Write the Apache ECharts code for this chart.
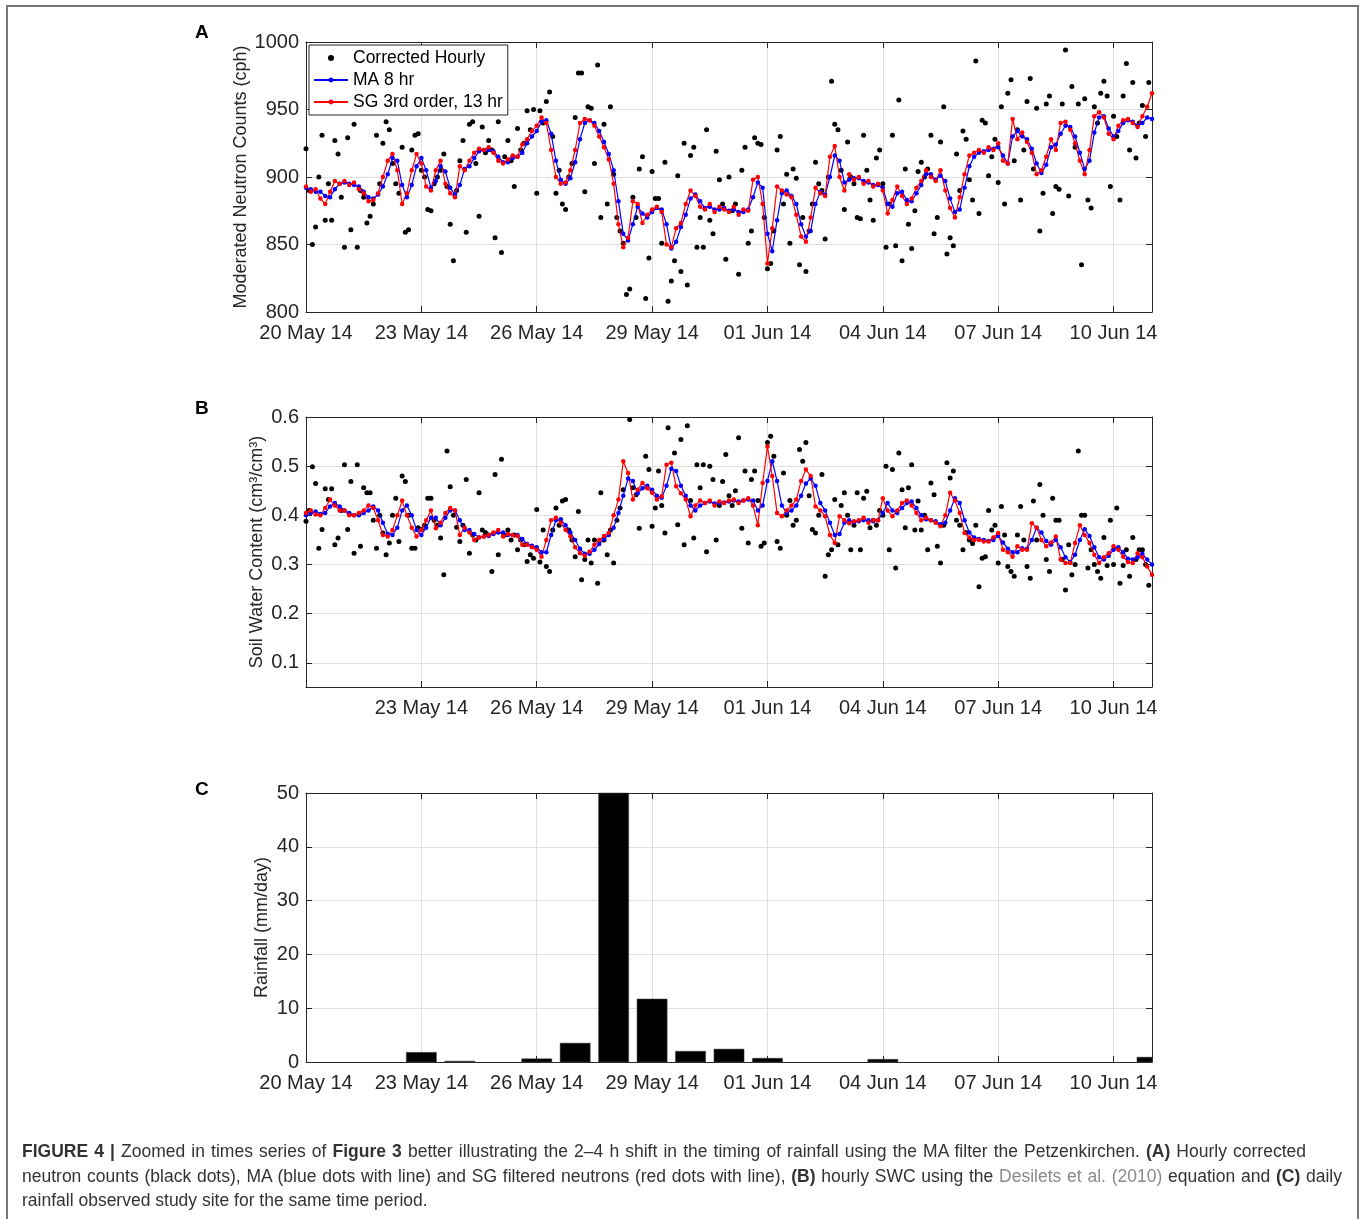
<!DOCTYPE html>
<html>
<head>
<meta charset="utf-8">
<title>Figure 4</title>
<script src="https://cdn.jsdelivr.net/npm/echarts@6/dist/echarts.min.js"></script>
<style>
html, body { margin: 0; padding: 0; background: #fff; }
#wrap { position: relative; width: 1360px; height: 1219px; overflow: hidden; }
#chart { position: absolute; left: 0; top: 0; width: 1360px; height: 1219px; }
#frame { position: absolute; left: 6px; top: 5px; width: 1349px; height: 1300px; border: 2px solid #777; }
#caption { position: absolute; left: 22px; top: 1139px; font-family: "Liberation Sans", Arial, sans-serif;
  font-size: 17.5px; line-height: 24.5px; color: #333; white-space: nowrap; }
#caption div { text-align: left; }
#caption .j { text-align: justify; text-align-last: justify; }
#caption .g { color: #8a8a8a; }
</style>
</head>
<body>
<div id="wrap">
  <div id="frame"></div>
  <div id="chart"></div>
  <div id="caption">
    <div class="j" style="width:1284px"><b>FIGURE 4 |</b> Zoomed in times series of <b>Figure 3</b> better illustrating the 2–4 h shift in the timing of rainfall using the MA filter the Petzenkirchen. <b>(A)</b> Hourly corrected</div>
    <div class="j" style="width:1320px">neutron counts (black dots), MA (blue dots with line) and SG filtered neutrons (red dots with line), <b>(B)</b> hourly SWC using the <span class="g">Desilets et al. (2010)</span> equation and <b>(C)</b> daily</div>
    <div>rainfall observed study site for the same time period.</div>
  </div>
</div>
<script>
var FONT = 'Liberation Sans, Arial, Helvetica, sans-serif';

// x axis: hours since 20 May 14 00:00, ticks every 3 days
var tickLabels = ['20 May 14', '23 May 14', '26 May 14', '29 May 14', '01 Jun 14', '04 Jun 14', '07 Jun 14', '10 Jun 14'];
var smStep = 3;   // filtered series: one value every 3 h
var rawStep = 2;  // corrected counts: one value every 2 h

// (A) neutron counts, SG 3rd order 13 hr (one row per day)
var sgCounts = [
  893,889,891,884,880,889,897,895,
  897,894,896,891,888,882,883,888,
  900,912,917,905,880,888,905,917,
  910,893,890,905,912,895,888,885,
  908,905,912,918,921,920,922,918,
  912,910,913,916,915,924,928,934,
  938,944,940,920,900,895,896,905,
  920,940,943,942,938,930,922,913,
  895,865,848,855,882,880,866,872,
  876,878,874,850,848,862,866,880,
  890,886,878,876,880,874,878,876,
  874,878,872,876,875,898,900,880,
  836,862,893,890,887,885,872,856,
  852,870,892,888,886,915,923,900,
  890,902,898,900,895,897,893,895,
  890,873,883,893,886,880,884,892,
  897,905,900,897,905,890,877,870,
  885,902,916,918,920,918,922,920,
  925,912,910,943,928,933,926,918,
  902,905,915,928,920,940,941,935,
  925,912,902,920,945,948,944,932,
  928,938,942,943,940,937,945,952,
  962
];

// (A) neutron counts, MA 8 hr
var maCounts = [
  892,891,889,889,886,885,891,895,
  896,895,894,893,889,885,884,887,
  893,902,914,912,894,885,894,908,
  914,905,892,897,908,904,892,887,
  894,906,908,914,919,920,920,919,
  915,911,911,914,915,918,925,930,
  934,941,942,932,912,898,895,899,
  911,928,940,942,940,934,926,917,
  905,882,858,853,865,878,873,870,
  874,877,876,865,847,852,863,872,
  884,887,882,877,878,876,876,877,
  875,876,874,874,876,885,896,892,
  858,845,868,888,890,886,880,865,
  856,860,880,889,887,900,916,912,
  896,898,899,899,897,896,894,894,
  892,880,878,888,889,883,882,888,
  894,902,902,898,901,897,884,874,
  876,892,908,915,918,919,920,921,
  922,916,910,930,934,930,928,921,
  910,903,909,922,924,932,938,937,
  930,918,906,912,933,944,945,936,
  930,934,940,942,941,938,940,944,
  943
];

// (A) corrected hourly counts (one row per day)
var rawCounts = [
  921,890,850,863,900,931,868,895,868,927,917,885,
  848,929,861,939,848,890,885,866,871,880,931,895,
  925,941,935,910,895,888,922,859,861,920,931,932,
  905,900,876,875,895,900,905,917,893,865,838,890,
  912,927,859,939,941,910,871,937,918,927,920,855,
  941,844,915,927,912,893,936,920,925,949,935,950,
  888,949,940,956,963,930,888,905,880,876,900,910,
  944,977,977,889,952,951,910,983,870,939,880,952,
  902,870,860,851,813,817,885,870,906,915,810,840,
  904,884,884,851,911,808,823,838,901,830,925,820,
  916,922,848,870,848,935,868,858,919,898,880,839,
  900,875,880,828,905,922,851,860,929,925,924,870,
  832,836,860,920,930,880,902,851,906,899,835,870,
  830,860,880,911,895,890,854,900,971,939,935,905,
  876,926,900,895,870,869,931,905,883,868,914,920,
  895,848,880,931,849,957,838,906,865,847,875,904,
  911,900,906,931,858,870,926,952,843,855,849,917,
  890,934,928,898,883,986,873,942,940,901,915,928,
  896,952,880,962,972,912,935,883,920,956,973,906,
  951,860,888,954,960,873,893,891,954,994,886,967,
  922,954,835,958,883,877,952,940,962,971,960,893,
  945,930,883,960,984,920,970,914,940,953,930,970
];

// (B) soil water content, SG filtered
var sgSwc = [
  0.405,0.41,0.402,0.40,0.415,0.432,0.42,0.41,
  0.41,0.40,0.40,0.405,0.41,0.42,0.415,0.39,
  0.36,0.357,0.37,0.40,0.43,0.40,0.375,0.357,
  0.37,0.39,0.41,0.374,0.385,0.405,0.415,0.41,
  0.36,0.375,0.365,0.35,0.355,0.357,0.36,0.365,
  0.37,0.357,0.362,0.36,0.358,0.34,0.34,0.335,
  0.33,0.316,0.35,0.39,0.395,0.385,0.37,0.357,
  0.335,0.323,0.318,0.326,0.34,0.35,0.358,0.364,
  0.40,0.432,0.51,0.486,0.432,0.452,0.466,0.455,
  0.446,0.432,0.439,0.503,0.507,0.459,0.445,0.432,
  0.398,0.42,0.43,0.425,0.43,0.42,0.428,0.425,
  0.43,0.432,0.425,0.43,0.435,0.42,0.38,0.466,
  0.54,0.48,0.405,0.398,0.41,0.42,0.432,0.47,
  0.493,0.48,0.418,0.41,0.398,0.36,0.344,0.398,
  0.39,0.384,0.388,0.39,0.395,0.385,0.39,0.39,
  0.435,0.41,0.398,0.41,0.425,0.43,0.42,0.405,
  0.39,0.395,0.39,0.385,0.378,0.40,0.446,0.43,
  0.405,0.364,0.355,0.35,0.35,0.347,0.347,0.355,
  0.364,0.33,0.325,0.316,0.337,0.33,0.33,0.384,
  0.375,0.35,0.337,0.345,0.357,0.31,0.303,0.303,
  0.344,0.38,0.36,0.344,0.32,0.303,0.315,0.323,
  0.337,0.33,0.316,0.305,0.303,0.323,0.315,0.296,
  0.279
];

// (B) soil water content, MA 8 hr
var maSwc = [
  0.40,0.405,0.408,0.403,0.405,0.418,0.425,0.418,
  0.41,0.405,0.40,0.40,0.405,0.41,0.418,0.41,
  0.385,0.362,0.36,0.375,0.41,0.42,0.40,0.37,
  0.36,0.375,0.395,0.395,0.38,0.395,0.41,0.41,
  0.39,0.37,0.37,0.362,0.355,0.357,0.358,0.362,
  0.365,0.365,0.36,0.36,0.36,0.352,0.342,0.338,
  0.335,0.325,0.325,0.36,0.39,0.392,0.38,0.365,
  0.35,0.332,0.322,0.322,0.33,0.342,0.352,0.36,
  0.375,0.405,0.44,0.475,0.47,0.445,0.455,0.46,
  0.452,0.44,0.436,0.46,0.495,0.49,0.46,0.44,
  0.42,0.41,0.42,0.425,0.428,0.424,0.425,0.426,
  0.428,0.43,0.428,0.43,0.432,0.43,0.41,0.42,
  0.47,0.51,0.47,0.42,0.405,0.41,0.42,0.44,
  0.465,0.475,0.46,0.425,0.41,0.385,0.36,0.362,
  0.385,0.39,0.386,0.388,0.39,0.39,0.388,0.39,
  0.405,0.425,0.41,0.405,0.415,0.425,0.428,0.415,
  0.40,0.392,0.39,0.388,0.382,0.385,0.41,0.435,
  0.425,0.39,0.365,0.355,0.352,0.35,0.348,0.35,
  0.358,0.345,0.332,0.325,0.325,0.333,0.332,0.35,
  0.375,0.365,0.348,0.34,0.35,0.335,0.315,0.305,
  0.32,0.35,0.372,0.358,0.335,0.315,0.31,0.318,
  0.33,0.335,0.325,0.312,0.31,0.315,0.322,0.31,
  0.30
];

// (B) hourly SWC from corrected counts
var rawSwc = [
  0.388,0.41,0.499,0.465,0.333,0.371,0.454,0.432,0.454,0.34,0.354,0.41,
  0.503,0.371,0.469,0.323,0.503,0.337,0.456,0.446,0.446,0.39,0.333,0.40,
  0.364,0.32,0.344,0.40,0.435,0.347,0.48,0.469,0.40,0.333,0.333,0.375,
  0.371,0.38,0.435,0.435,0.39,0.38,0.354,0.279,0.531,0.458,0.40,0.376,
  0.347,0.38,0.473,0.323,0.36,0.35,0.446,0.37,0.365,0.36,0.286,0.483,
  0.32,0.514,0.36,0.37,0.35,0.36,0.33,0.35,0.34,0.306,0.32,0.313,
  0.412,0.305,0.37,0.296,0.286,0.37,0.415,0.38,0.429,0.432,0.37,0.35,
  0.316,0.408,0.269,0.31,0.35,0.303,0.35,0.262,0.446,0.35,0.32,0.37,
  0.303,0.39,0.415,0.452,0.602,0.595,0.456,0.442,0.374,0.602,0.52,0.493,
  0.378,0.415,0.49,0.42,0.364,0.578,0.602,0.527,0.381,0.554,0.34,0.582,
  0.43,0.354,0.503,0.456,0.503,0.326,0.50,0.473,0.35,0.42,0.469,0.524,
  0.44,0.42,0.45,0.558,0.374,0.49,0.344,0.473,0.49,0.43,0.337,0.344,
  0.548,0.561,0.52,0.347,0.333,0.486,0.40,0.43,0.38,0.39,0.534,0.51,
  0.548,0.44,0.371,0.364,0.40,0.483,0.276,0.32,0.33,0.432,0.34,0.42,
  0.446,0.40,0.33,0.38,0.446,0.33,0.435,0.449,0.375,0.39,0.38,0.41,
  0.40,0.50,0.33,0.493,0.293,0.527,0.452,0.375,0.456,0.503,0.37,0.429,
  0.37,0.40,0.33,0.466,0.442,0.337,0.303,0.38,0.507,0.476,0.49,0.39,
  0.38,0.33,0.365,0.35,0.343,0.38,0.255,0.313,0.316,0.41,0.37,0.38,
  0.303,0.418,0.36,0.296,0.286,0.276,0.36,0.418,0.35,0.296,0.272,0.429,
  0.35,0.463,0.40,0.31,0.286,0.435,0.39,0.39,0.31,0.248,0.34,0.279,
  0.30,0.531,0.40,0.40,0.293,0.33,0.30,0.286,0.272,0.355,0.298,0.39,
  0.30,0.415,0.262,0.298,0.33,0.276,0.355,0.31,0.33,0.33,0.30,0.258
];

// (C) daily rainfall (day index from 20 May 14)
var rainDays = [3, 4, 6, 7, 8, 9, 10, 11, 12, 15, 22];
var rainMm = [1.8, 0.15, 0.6, 3.5, 62, 11.7, 2.0, 2.4, 0.7, 0.5, 0.9];

var swcTicks = [0.1, 0.2, 0.3, 0.4, 0.5, 0.6];

function toXY(arr, step) {
    return arr.map(function (v, i) { return [i * step, v]; });
}

function xAx(g, pos, skipFirst) {
    return {
        type: 'value', gridIndex: g, position: pos, min: 0, max: 528, interval: 72,
        axisLine: { show: true, onZero: false, lineStyle: { color: '#262626', width: 1 } },
        axisTick: { show: true, inside: true, length: 6, lineStyle: { color: '#262626' } },
        axisLabel: {
            show: pos === 'bottom', margin: 11, color: '#262626', fontSize: 20, fontFamily: FONT,
            showMinLabel: true,
            formatter: function (v) {
                var k = Math.round(v / 72);
                if (v % 72 !== 0) return '';
                if (skipFirst && k === 0) return '';
                return tickLabels[k] || '';
            }
        },
        splitLine: { show: pos === 'bottom', lineStyle: { color: '#dfdfdf', width: 1 } }
    };
}

function yAx(g, pos, cfg) {
    var ax = {
        type: 'value', gridIndex: g, position: pos, min: cfg.min, max: cfg.max,
        axisLine: { show: true, onZero: false, lineStyle: { color: '#262626', width: 1 } },
        axisTick: { show: true, inside: true, length: 6, lineStyle: { color: '#262626' } },
        axisLabel: {
            show: pos === 'left', margin: 7, color: '#262626', fontSize: 20, fontFamily: FONT,
            formatter: function (v) { return String(v); }
        },
        splitLine: { show: pos === 'left', lineStyle: { color: '#dfdfdf', width: 1 } }
    };
    if (cfg.interval) ax.interval = cfg.interval;
    if (cfg.custom) {
        ax.axisTick.customValues = cfg.custom;
        ax.axisLabel.customValues = cfg.custom;
        ax.axisLabel.formatter = function (v) { return v.toFixed(1); };
    }
    if (pos === 'left' && cfg.name) {
        ax.name = cfg.name;
        ax.nameLocation = 'middle';
        ax.nameRotate = 90;
        ax.nameGap = cfg.gap;
        ax.nameMoveOverlap = false;
        ax.nameTextStyle = { fontSize: 18, fontFamily: FONT, color: '#262626' };
    }
    return ax;
}

// daily bars, half a bar width in hours; clipped to the plot like the original
var barHalf = 9.4;
function renderRain(params, api) {
    var x = api.value(0), v = api.value(1);
    var p0 = api.coord([x - barHalf, v]);
    var p1 = api.coord([x + barHalf, 0]);
    var cs = params.coordSys;
    var rect = echarts.graphic.clipRectByRect(
        { x: p0[0], y: p0[1], width: p1[0] - p0[0], height: p1[1] - p0[1] },
        { x: cs.x, y: cs.y, width: cs.width, height: cs.height }
    );
    return rect && { type: 'rect', shape: rect, style: { fill: '#000', stroke: '#444', lineWidth: 0.5 } };
}

var chart = echarts.init(document.getElementById('chart'), null, { renderer: 'canvas' });

var yA = { min: 800, max: 1000, interval: 50, name: 'Moderated Neutron Counts (cph)', gap: 56 };
var yB = { min: 0.051, max: 0.6, custom: swcTicks, name: 'Soil Water Content (cm³/cm³)', gap: 40 };
var yC = { min: 0, max: 50, interval: 10, name: 'Rainfall (mm/day)', gap: 35 };

var option = {
    animation: false,
    backgroundColor: 'transparent',
    textStyle: { fontFamily: FONT },
    grid: [
        { left: 306, top: 42, width: 846, height: 270 },
        { left: 306, top: 417, width: 846, height: 270 },
        { left: 306, top: 793, width: 846, height: 269 }
    ],
    xAxis: [
        xAx(0, 'bottom', false), xAx(0, 'top', false),
        xAx(1, 'bottom', true), xAx(1, 'top', true),
        xAx(2, 'bottom', false), xAx(2, 'top', false)
    ],
    yAxis: [
        yAx(0, 'left', yA), yAx(0, 'right', yA),
        yAx(1, 'left', yB), yAx(1, 'right', yB),
        yAx(2, 'left', yC), yAx(2, 'right', yC)
    ],
    legend: {
        left: 309, top: 45, orient: 'vertical',
        padding: [4, 5, 4, 4], itemGap: 4, itemWidth: 34, itemHeight: 6,
        backgroundColor: '#fff', borderColor: '#262626', borderWidth: 1,
        textStyle: { fontSize: 17.5, fontFamily: FONT, color: '#000' },
        data: ['Corrected Hourly', 'MA 8 hr', 'SG 3rd order, 13 hr']
    },
    graphic: [
        { type: 'text', left: 195, top: 23, style: { text: 'A', font: 'bold 19px ' + FONT, fill: '#000' } },
        { type: 'text', left: 195, top: 399, style: { text: 'B', font: 'bold 19px ' + FONT, fill: '#000' } },
        { type: 'text', left: 195, top: 780, style: { text: 'C', font: 'bold 19px ' + FONT, fill: '#000' } }
    ],
    series: [
        {
            name: 'Corrected Hourly', type: 'scatter', xAxisIndex: 0, yAxisIndex: 0,
            symbolSize: 5, itemStyle: { color: '#000', opacity: 1 }, data: toXY(rawCounts, rawStep)
        },
        {
            name: 'MA 8 hr', type: 'line', xAxisIndex: 0, yAxisIndex: 0,
            symbol: 'circle', symbolSize: 4.5, showSymbol: true,
            lineStyle: { color: '#0000ff', width: 1.2 }, itemStyle: { color: '#0000ff' },
            data: toXY(maCounts, smStep)
        },
        {
            name: 'SG 3rd order, 13 hr', type: 'line', xAxisIndex: 0, yAxisIndex: 0,
            symbol: 'circle', symbolSize: 4.5, showSymbol: true,
            lineStyle: { color: '#ff0000', width: 1.2 }, itemStyle: { color: '#ff0000' },
            data: toXY(sgCounts, smStep)
        },
        {
            name: 'Corrected Hourly', type: 'scatter', xAxisIndex: 2, yAxisIndex: 2,
            symbolSize: 5, itemStyle: { color: '#000', opacity: 1 }, data: toXY(rawSwc, rawStep)
        },
        {
            name: 'MA 8 hr', type: 'line', xAxisIndex: 2, yAxisIndex: 2,
            symbol: 'circle', symbolSize: 4.5, showSymbol: true,
            lineStyle: { color: '#0000ff', width: 1.2 }, itemStyle: { color: '#0000ff' },
            data: toXY(maSwc, smStep)
        },
        {
            name: 'SG 3rd order, 13 hr', type: 'line', xAxisIndex: 2, yAxisIndex: 2,
            symbol: 'circle', symbolSize: 4.5, showSymbol: true,
            lineStyle: { color: '#ff0000', width: 1.2 }, itemStyle: { color: '#ff0000' },
            data: toXY(sgSwc, smStep)
        },
        {
            name: 'Rainfall', type: 'custom', xAxisIndex: 4, yAxisIndex: 4,
            renderItem: renderRain, encode: { x: 0, y: 1 },
            data: rainDays.map(function (d, i) { return [d * 24, rainMm[i]]; })
        }
    ]
};

chart.setOption(option);
window.addEventListener('resize', chart.resize);
</script>
</body>
</html>
